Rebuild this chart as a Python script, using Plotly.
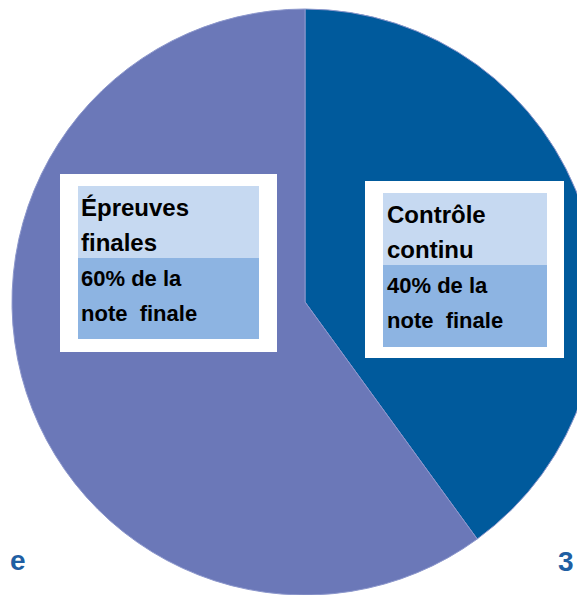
import plotly.graph_objects as go

# ---- data ----
labels = ["Contrôle continu", "Épreuves finales"]
title_lines = [["Contrôle", "continu"], ["Épreuves", "finales"]]
values = [40, 60]
slice_colors = ["#005A9C", "#6B78B8"]

# the page body adds an 8px offset
W, H = 600, 587
OFF = 8

def px(x):  # screen x -> paper
    return (x - OFF) / W

def py(y):  # screen y -> paper
    return (H - (y - OFF)) / H

CX, CY, R = 305, 302, 293

fig = go.Figure()
fig.add_trace(go.Pie(
    labels=labels, values=values, sort=False, direction="clockwise", rotation=0,
    marker=dict(colors=slice_colors, line=dict(color="#8C97CC", width=1)),
    textinfo="none", hoverinfo="label+percent", showlegend=False,
    domain=dict(x=[px(CX - R), px(CX + R)], y=[max(0.0, py(CY + R)), min(1.0, py(CY - R))]),
))

shapes = []
annotations = []
title_font = dict(family="Liberation Sans, Arial, sans-serif", size=24, color="#000000")
body_font = dict(family="Liberation Sans, Arial, sans-serif", size=22, color="#000000")

boxes = [
    dict(outer=(365, 181, 564, 358), ix=(383, 547), iy=(193, 265, 347), tx=386, base=[223, 258, 293, 328]),
    dict(outer=(60, 174, 277, 352), ix=(78, 259), iy=(186, 258, 339), tx=80, base=[216, 251, 286, 321]),
]

for i, b in enumerate(boxes):
    x0, y0, x1, y1 = b["outer"]
    shapes.append(dict(type="rect", xref="paper", yref="paper", x0=px(x0), x1=px(x1),
                       y0=py(y1), y1=py(y0), fillcolor="#FFFFFF", line=dict(width=0)))
    shapes.append(dict(type="rect", xref="paper", yref="paper", x0=px(b["ix"][0]), x1=px(b["ix"][1]),
                       y0=py(b["iy"][1]), y1=py(b["iy"][0]), fillcolor="#C6D9F1", line=dict(width=0)))
    shapes.append(dict(type="rect", xref="paper", yref="paper", x0=px(b["ix"][0]), x1=px(b["ix"][1]),
                       y0=py(b["iy"][2]), y1=py(b["iy"][1]), fillcolor="#8DB4E2", line=dict(width=0)))
    lines = title_lines[i] + [f"{values[i]}% de la", "note  finale"]
    fonts = [title_font, title_font, body_font, body_font]
    for t, base, f in zip(lines, b["base"], fonts):
        annotations.append(dict(text="<b>" + t + "</b>", xref="paper", yref="paper",
                                x=px(b["tx"] - 1), y=py(base - 0.3465 * f["size"]),
                                xanchor="left", yanchor="middle",
                                showarrow=False, font=f, align="left"))

# cropped neighbouring text fragments
frag_font = dict(family="Liberation Sans, Arial, sans-serif", size=28, color="#1F5FA3")
annotations.append(dict(text="<b>e</b>", xref="paper", yref="paper", x=px(8), y=py(560),
                        xanchor="left", yanchor="middle", showarrow=False, font=frag_font))
annotations.append(dict(text="<b>3</b>", xref="paper", yref="paper", x=px(576), y=py(561),
                        xanchor="right", yanchor="middle", showarrow=False, font=frag_font))

fig.update_layout(width=W, height=H, margin=dict(l=0, r=0, t=0, b=0),
                  paper_bgcolor="#FFFFFF", plot_bgcolor="#FFFFFF",
                  shapes=shapes, annotations=annotations)

fig.write_html("out.html")
